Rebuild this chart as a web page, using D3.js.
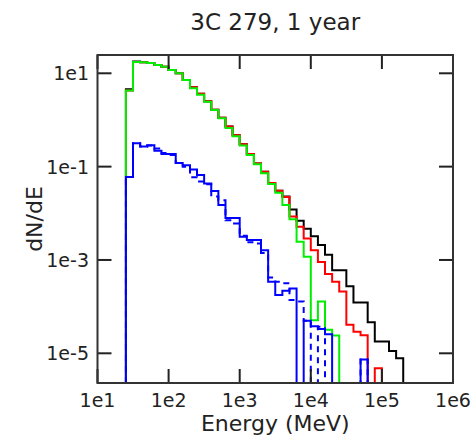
<!DOCTYPE html>
<html><head><meta charset="utf-8">
<script src="https://cdn.jsdelivr.net/npm/d3@7"></script>
<style>body{margin:0;background:#fff}svg{display:block}</style>
</head><body>
<script>
// bin edges (MeV), 0.1 dex bins from 25 MeV to 200 GeV
const binEdges = [25.1,31.6,39.8,50.1,63.1,79.4,100,126,158,200,251,316,398,501,631,794,1000,1259,1585,1995,2512,3162,3981,5012,6310,7943,10000,12589,15849,19953,25119,31623,39811,50119,63096,79433,100000,125893,158489,199526];
const xTicks = [1e1,1e2,1e3,1e4,1e5,1e6];
const xTickLabels = ["1e1","1e2","1e3","1e4","1e5","1e6"];
const yTicks = [1e1,1e-1,1e-3,1e-5];
const yTickLabels = ["1e1","1e-1","1e-3","1e-5"];

const totalBlack = [4.57,17.8,17.2,16.7,15.1,13.8,11.8,10.0,7.18,5.0,3.63,2.51,1.66,1.11,0.724,0.468,0.302,0.186,0.117,0.0776,0.0447,0.0305,0.0229,0.012,0.00692,0.00468,0.00324,0.00209,0.00129,6.0e-4,6.0e-4,2.75e-4,1.23e-4,1.23e-4,4.6e-5,1.78e-5,1.78e-5,1.12e-5,7.8e-6];
const seriesRed = [4.27,17.4,17.2,16.7,15.1,13.8,11.8,10.0,7.18,5.0,3.63,2.51,1.66,1.11,0.724,0.468,0.302,0.186,0.117,0.0776,0.0447,0.0305,0.0224,0.00851,0.00513,0.00288,0.00162,9.1e-4,5.0e-4,3.4e-4,2.1e-4,4.1e-5,2.9e-5,2.45e-5,0,4.8e-6,0,0,0];
const seriesGreen = [4.27,17.4,17.2,16.7,15.1,13.8,11.8,10.0,7.18,4.79,3.47,2.47,1.64,1.09,0.676,0.447,0.282,0.178,0.112,0.0724,0.0425,0.0275,0.0151,0.00741,0.00245,0.00117,5.1e-5,1.29e-4,3.2e-5,2.4e-5,0,0,0,0,0,0,0,0,0];
const blueSolid = [0.0603,0.316,0.269,0.288,0.219,0.186,0.186,0.120,0.107,0.0871,0.0661,0.0437,0.0302,0.0151,0.00794,0.00794,0.00316,0.00269,0.00269,0.00162,3.4e-4,1.78e-4,2.19e-4,2.45e-4,0,5.0e-5,3.8e-5,3.3e-5,2.57e-5,0,0,0,0,7.4e-6,0,0,0,0,0];
const blueDashed = [0.0603,0.316,0.269,0.282,0.245,0.195,0.178,0.120,0.1,0.0589,0.0479,0.0417,0.0229,0.0191,0.00708,0.00603,0.00331,0.0024,0.00224,0.00141,4.2e-4,3.4e-4,3.16e-4,1.38e-4,1.29e-4,5.0e-5,0,3.7e-5,0,0,0,0,0,7.4e-6,0,0,0,0,0];

const W = 474, H = 437;
const L = 97.5, R = 453, T = 55, B = 383;
const font = "DejaVu Sans, sans-serif";

const svg = d3.select("body").append("svg").attr("width", W).attr("height", H);
const x = d3.scaleLog().domain([10, 1e6]).range([L, R]);
const y = d3.scaleLog().domain([2.31e-6, 24.66]).range([B, T]);

svg.append("defs").append("clipPath").attr("id","clip")
  .append("rect").attr("x",L).attr("y",T).attr("width",R-L).attr("height",B-T);

function stepPoints(vals){
  let first = vals.findIndex(v => v > 0);
  let last = vals.length - 1 - [...vals].reverse().findIndex(v => v > 0);
  const pts = [[x(binEdges[first]), B]];
  for (let i = first; i <= last; i++){
    const yy = vals[i] > 0 ? y(vals[i]) : B;
    pts.push([x(binEdges[i]), yy]);
    pts.push([x(binEdges[i+1]), yy]);
  }
  pts.push([x(binEdges[last+1]), B]);
  return pts;
}
const line = d3.line();
const g = svg.append("g").attr("clip-path","url(#clip)");
const series = [
  {v: totalBlack, c: "#000000", d: null},
  {v: seriesRed, c: "#ff0000", d: null},
  {v: seriesGreen, c: "#00ee00", d: null},
  {v: blueDashed, c: "#0000ff", d: "6,5"},
  {v: blueSolid, c: "#0000ff", d: null}
];
series.forEach(s => {
  g.append("path").attr("d", line(stepPoints(s.v)))
    .attr("fill","none").attr("stroke", s.c).attr("stroke-width", 2)
    .attr("stroke-dasharray", s.d);
});

// inward ticks on all four sides
const tickCol = "#222", tl = 14;
const ax = svg.append("g").attr("stroke", tickCol).attr("stroke-width", 2);
xTicks.forEach(t => {
  ax.append("line").attr("x1", x(t)).attr("x2", x(t)).attr("y1", B).attr("y2", B - tl);
  ax.append("line").attr("x1", x(t)).attr("x2", x(t)).attr("y1", T).attr("y2", T + tl);
});
yTicks.forEach(t => {
  ax.append("line").attr("x1", L).attr("x2", L + tl).attr("y1", y(t)).attr("y2", y(t));
  ax.append("line").attr("x1", R).attr("x2", R - tl).attr("y1", y(t)).attr("y2", y(t));
});
svg.append("rect").attr("x", L).attr("y", T).attr("width", R - L).attr("height", B - T)
  .attr("fill","none").attr("stroke", "#333").attr("stroke-width", 2);

// tick labels
xTicks.forEach((t,i) => {
  svg.append("text").attr("x", x(t)).attr("y", 407).attr("text-anchor","middle")
    .attr("font-family", font).attr("font-size", 19).attr("fill","#222").text(xTickLabels[i]);
});
yTicks.forEach((t,i) => {
  svg.append("text").attr("x", 89).attr("y", y(t) + 7).attr("text-anchor","end")
    .attr("font-family", font).attr("font-size", 19).attr("fill","#222").text(yTickLabels[i]);
});

// titles
svg.append("text").attr("x", (L+R)/2).attr("y", 30).attr("text-anchor","middle")
  .attr("font-family", font).attr("font-size", 23).attr("fill","#222").text("3C 279, 1 year");
svg.append("text").attr("x", (L+R)/2).attr("y", 431).attr("text-anchor","middle")
  .attr("font-family", font).attr("font-size", 22).attr("fill","#222").text("Energy (MeV)");
svg.append("text").attr("transform", `translate(42,${(T+B)/2}) rotate(-90)`).attr("text-anchor","middle")
  .attr("font-family", font).attr("font-size", 22).attr("fill","#222").text("dN/dE");
</script>
</body></html>
